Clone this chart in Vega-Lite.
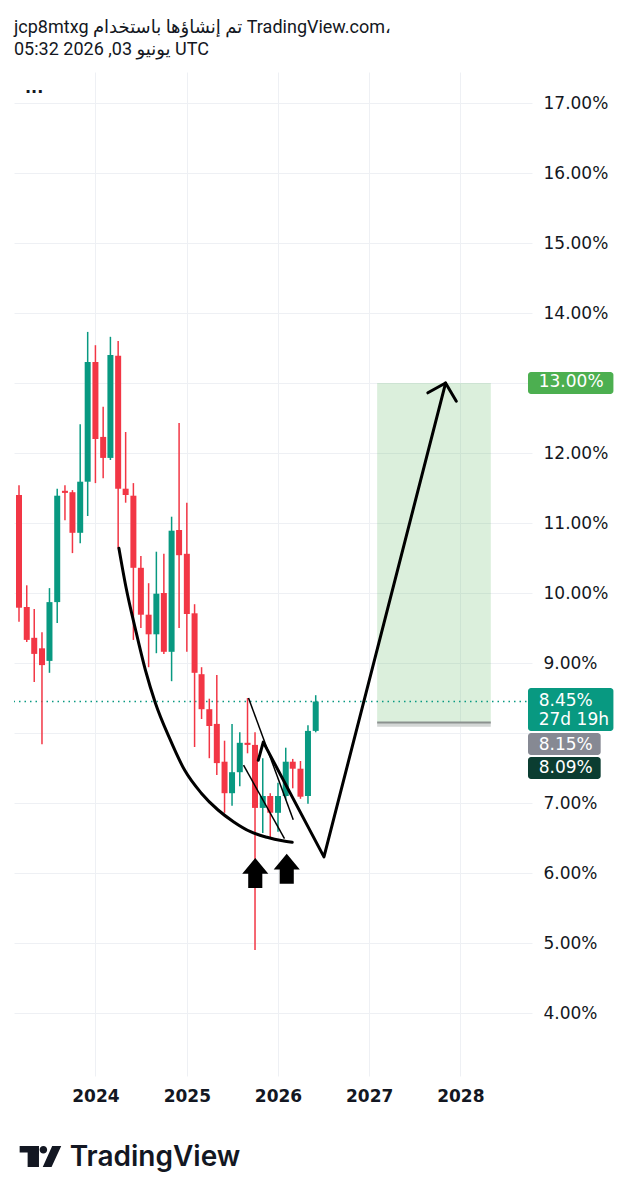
{
"$schema":"https://vega.github.io/schema/vega-lite/v6.json",
"width":518,"height":1004,"autosize":"none",
"padding":{"left":14,"top":72,"right":110,"bottom":124},
"background":"#ffffff",
"config":{"view":{"stroke":null}},
"title":{"text":"jcp8mtxg تم إنشاؤها باستخدام TradingView.com،","subtitle":"05:32 2026 ,03 يونيو UTC","anchor":"start","frame":"group","font":"Roboto, DejaVu Sans","fontSize":18,"fontWeight":"normal","color":"#131722","subtitleFont":"Roboto, DejaVu Sans","subtitleFontSize":18,"subtitleColor":"#131722","subtitlePadding":4,"offset":13},
"datasets":{
"candles":[
{"date":"2023-03-01","open":11.40,"high":11.54,"low":9.59,"close":9.79},
{"date":"2023-04-01","open":9.80,"high":10.11,"low":9.30,"close":9.33},
{"date":"2023-05-01","open":9.36,"high":9.77,"low":8.73,"close":9.13},
{"date":"2023-06-01","open":9.21,"high":9.44,"low":7.84,"close":8.97},
{"date":"2023-07-01","open":9.03,"high":10.07,"low":8.86,"close":9.87},
{"date":"2023-08-01","open":9.87,"high":11.49,"low":9.57,"close":11.39},
{"date":"2023-09-01","open":11.46,"high":11.54,"low":11.04,"close":11.43},
{"date":"2023-10-01","open":11.44,"high":11.47,"low":10.57,"close":10.86},
{"date":"2023-11-01","open":10.86,"high":12.41,"low":10.71,"close":11.59},
{"date":"2023-12-01","open":11.59,"high":13.73,"low":11.10,"close":13.30},
{"date":"2024-01-01","open":13.30,"high":13.54,"low":11.57,"close":12.20},
{"date":"2024-02-01","open":12.23,"high":12.66,"low":11.64,"close":11.93},
{"date":"2024-03-01","open":11.93,"high":13.66,"low":11.90,"close":13.40},
{"date":"2024-04-01","open":13.39,"high":13.60,"low":10.64,"close":11.49},
{"date":"2024-05-01","open":11.49,"high":12.30,"low":11.29,"close":11.40},
{"date":"2024-06-01","open":11.39,"high":11.57,"low":9.33,"close":10.36},
{"date":"2024-07-01","open":10.36,"high":10.53,"low":9.50,"close":9.69},
{"date":"2024-08-01","open":9.69,"high":10.14,"low":8.94,"close":9.41},
{"date":"2024-09-01","open":9.41,"high":10.59,"low":9.14,"close":9.99},
{"date":"2024-10-01","open":10.00,"high":10.56,"low":9.13,"close":9.16},
{"date":"2024-11-01","open":9.16,"high":11.09,"low":8.74,"close":10.89},
{"date":"2024-12-01","open":10.90,"high":12.43,"low":9.50,"close":10.54},
{"date":"2025-01-01","open":10.56,"high":11.29,"low":9.16,"close":9.70},
{"date":"2025-02-01","open":9.71,"high":9.84,"low":7.80,"close":8.86},
{"date":"2025-03-01","open":8.84,"high":8.94,"low":8.20,"close":8.34},
{"date":"2025-04-01","open":8.34,"high":8.49,"low":7.64,"close":8.10},
{"date":"2025-05-01","open":8.13,"high":8.83,"low":7.40,"close":7.57},
{"date":"2025-06-01","open":7.59,"high":7.89,"low":6.86,"close":7.14},
{"date":"2025-07-01","open":7.14,"high":8.13,"low":6.96,"close":7.44},
{"date":"2025-08-01","open":7.44,"high":8.01,"low":7.24,"close":7.86},
{"date":"2025-09-01","open":7.86,"high":8.50,"low":7.71,"close":7.83},
{"date":"2025-10-01","open":7.83,"high":8.01,"low":4.90,"close":6.93},
{"date":"2025-11-01","open":6.93,"high":7.64,"low":6.57,"close":7.10},
{"date":"2025-12-01","open":7.10,"high":7.14,"low":6.51,"close":6.86},
{"date":"2026-01-01","open":6.86,"high":7.29,"low":6.59,"close":7.10},
{"date":"2026-02-01","open":7.10,"high":7.79,"low":7.04,"close":7.59},
{"date":"2026-03-01","open":7.59,"high":7.63,"low":7.21,"close":7.49},
{"date":"2026-04-01","open":7.49,"high":7.60,"low":7.06,"close":7.09},
{"date":"2026-05-01","open":7.10,"high":8.11,"low":6.99,"close":8.03},
{"date":"2026-06-01","open":8.03,"high":8.54,"low":8.01,"close":8.45}
],
"drawing":[
{"seg":"curve","date":"2024-04-04","value":10.64},
{"seg":"curve","date":"2024-05-02","value":10.09},
{"seg":"curve","date":"2024-06-10","value":9.47},
{"seg":"curve","date":"2024-07-19","value":8.90},
{"seg":"curve","date":"2024-08-28","value":8.43},
{"seg":"curve","date":"2024-10-22","value":7.94},
{"seg":"curve","date":"2024-12-23","value":7.47},
{"seg":"curve","date":"2025-02-28","value":7.14},
{"seg":"curve","date":"2025-05-06","value":6.90},
{"seg":"curve","date":"2025-07-08","value":6.73},
{"seg":"curve","date":"2025-09-13","value":6.59},
{"seg":"curve","date":"2025-11-18","value":6.51},
{"seg":"curve","date":"2026-01-19","value":6.46},
{"seg":"curve","date":"2026-02-27","value":6.44},
{"seg":"t1","date":"2025-09-05","value":8.50},
{"seg":"t1","date":"2026-03-03","value":6.76},
{"seg":"t2","date":"2025-08-16","value":7.54},
{"seg":"t2","date":"2026-01-27","value":6.49},
{"seg":"path","date":"2025-10-14","value":7.61},
{"seg":"path","date":"2025-11-03","value":7.87},
{"seg":"path","date":"2026-07-04","value":6.23},
{"seg":"path","date":"2027-11-03","value":13.0},
{"seg":"head","date":"2027-08-24","value":12.86},
{"seg":"head","date":"2027-11-03","value":13.0},
{"seg":"head","date":"2027-12-16","value":12.74}
],
"zone":[{"start":"2027-02-02","end":"2028-05-02","target":13.0,"entry":8.15,"stop":8.09}],
"markers":[{"date":"2025-10-02","value":6.0},{"date":"2026-02-05","value":6.06}],
"tags":[{"tag":"13.00%","value":13.0},{"tag":"8.45%","value":8.45,"note":"27d 19h"},{"tag":"8.15%","value":8.15},{"tag":"8.09%","value":8.09}],
"branding":[{"label":"TradingView","date":"2023-09-20","value":1.93,"icondate":"2023-05-25","iconvalue":1.95}],
"menu":[{"label":"...","date":"2023-03-25","value":17.14}]
},
"layer":[
{"data":{"name":"zone"},"mark":{"type":"rect","color":"#4caf50","opacity":0.2},
 "encoding":{
  "x":{"field":"start","type":"temporal","scale":{"domain":[{"year":2023,"month":3,"date":1,"utc":true},{"year":2028,"month":9,"date":24,"utc":true}]},
   "axis":{"orient":"bottom","values":[{"year":2024,"month":1,"date":1,"utc":true},{"year":2025,"month":1,"date":1,"utc":true},{"year":2026,"month":1,"date":1,"utc":true},{"year":2027,"month":1,"date":1,"utc":true},{"year":2028,"month":1,"date":1,"utc":true}],"format":"%Y","formatType":"utc","grid":true,"gridColor":"#eef0f4","domain":false,"ticks":false,"labelPadding":12,"labelFont":"DejaVu Sans","labelFontSize":17,"labelFontWeight":"bold","labelColor":"#131722","title":null}},
  "x2":{"field":"end"},
  "y":{"field":"target","type":"quantitative","scale":{"domain":[3.1,17.443],"nice":false,"zero":false},
   "axis":{"orient":"right","values":[4,5,6,7,8,9,10,11,12,13,14,15,16,17],"labelExpr":"datum.value === 8 || datum.value === 13 ? '' : format(datum.value,'.2f') + '%'","grid":true,"gridColor":"#eef0f4","domain":false,"ticks":false,"labelPadding":11,"labelFont":"DejaVu Sans","labelFontSize":17,"labelColor":"#131722","title":null}},
  "y2":{"field":"entry"}}},
{"data":{"name":"zone"},"mark":{"type":"rect","color":"#d3d6d5"},
 "encoding":{"x":{"field":"start","type":"temporal"},"x2":{"field":"end"},"y":{"field":"entry","type":"quantitative"},"y2":{"field":"stop"}}},
{"data":{"name":"zone"},"mark":{"type":"rule","color":"#8c918f","strokeWidth":2},
 "encoding":{"x":{"field":"start","type":"temporal"},"x2":{"field":"end"},"y":{"field":"entry","type":"quantitative"}}},
{"data":{"name":"tags"},"transform":[{"filter":"datum.tag === '8.45%'"}],"mark":{"type":"rule","color":"#089981","strokeWidth":1.3,"strokeDash":[1.5,4]},
 "encoding":{"y":{"field":"value","type":"quantitative"}}},
{"data":{"name":"candles"},"mark":{"type":"rule","strokeWidth":1.5},
 "encoding":{"x":{"field":"date","type":"temporal"},"y":{"field":"low","type":"quantitative"},"y2":{"field":"high"},
  "color":{"condition":{"test":"datum.close >= datum.open","value":"#089981"},"value":"#f23645"}}},
{"data":{"name":"candles"},"mark":{"type":"bar","width":6},
 "encoding":{"x":{"field":"date","type":"temporal"},"y":{"field":"open","type":"quantitative"},"y2":{"field":"close"},
  "color":{"condition":{"test":"datum.close >= datum.open","value":"#089981"},"value":"#f23645"}}},
{"data":{"name":"drawing"},"transform":[{"filter":"datum.seg === 'curve'"}],"mark":{"type":"line","color":"#000000","strokeWidth":3,"interpolate":"monotone","strokeCap":"round"},
 "encoding":{"x":{"field":"date","type":"temporal"},"y":{"field":"value","type":"quantitative"}}},
{"data":{"name":"drawing"},"transform":[{"filter":"datum.seg === 't1' || datum.seg === 't2'"}],"mark":{"type":"line","color":"#000000","strokeWidth":1.5},
 "encoding":{"x":{"field":"date","type":"temporal"},"y":{"field":"value","type":"quantitative"},"detail":{"field":"seg"}}},
{"data":{"name":"drawing"},"transform":[{"filter":"datum.seg === 'path' || datum.seg === 'head'"}],"mark":{"type":"line","color":"#000000","strokeWidth":3,"strokeCap":"round","strokeJoin":"round"},
 "encoding":{"x":{"field":"date","type":"temporal"},"y":{"field":"value","type":"quantitative"},"detail":{"field":"seg"}}},
{"data":{"name":"markers"},"mark":{"type":"point","filled":true,"color":"#000000","opacity":1,"size":900,"strokeWidth":0,"shape":"M0,-1L0.87,0.05L0.47,0.05L0.47,1L-0.47,1L-0.47,0.05L-0.87,0.05Z"},
 "encoding":{"x":{"field":"date","type":"temporal"},"y":{"field":"value","type":"quantitative"}}},
{"data":{"name":"tags"},"transform":[{"filter":"datum.tag === '13.00%'"}],"mark":{"type":"rect","color":"#4caf50","cornerRadius":3,"yOffset":-11,"y2Offset":11},
 "encoding":{"x":{"datum":{"year":2028,"month":9,"date":28,"utc":true},"type":"temporal"},"x2":{"datum":{"year":2029,"month":9,"date":5,"utc":true}},"y":{"field":"value","type":"quantitative"},"y2":{"field":"value"}}},
{"data":{"name":"tags"},"transform":[{"filter":"datum.tag === '8.45%'"}],"mark":{"type":"rect","color":"#089981","cornerRadius":3,"yOffset":-13.5,"y2Offset":29.5},
 "encoding":{"x":{"datum":{"year":2028,"month":9,"date":28,"utc":true},"type":"temporal"},"x2":{"datum":{"year":2029,"month":9,"date":5,"utc":true}},"y":{"field":"value","type":"quantitative"},"y2":{"field":"value"}}},
{"data":{"name":"tags"},"transform":[{"filter":"datum.tag === '8.15%'"}],"mark":{"type":"rect","color":"#868993","cornerRadius":3,"yOffset":10.5,"y2Offset":32.5},
 "encoding":{"x":{"datum":{"year":2028,"month":9,"date":28,"utc":true},"type":"temporal"},"x2":{"datum":{"year":2029,"month":7,"date":16,"utc":true}},"y":{"field":"value","type":"quantitative"},"y2":{"field":"value"}}},
{"data":{"name":"tags"},"transform":[{"filter":"datum.tag === '8.09%'"}],"mark":{"type":"rect","color":"#0b3d31","cornerRadius":3,"yOffset":30.3,"y2Offset":52.3},
 "encoding":{"x":{"datum":{"year":2028,"month":9,"date":28,"utc":true},"type":"temporal"},"x2":{"datum":{"year":2029,"month":7,"date":16,"utc":true}},"y":{"field":"value","type":"quantitative"},"y2":{"field":"value"}}},
{"data":{"name":"tags"},"transform":[{"filter":"datum.tag === '13.00%' || datum.tag === '8.45%'"}],"mark":{"type":"text","color":"#ffffff","font":"DejaVu Sans","fontSize":17,"align":"left","baseline":"middle","dy":-1},
 "encoding":{"x":{"datum":{"year":2028,"month":11,"date":10,"utc":true},"type":"temporal"},"y":{"field":"value","type":"quantitative"},"text":{"field":"tag"}}},
{"data":{"name":"tags"},"transform":[{"filter":"datum.note"}],"mark":{"type":"text","color":"#ffffff","font":"DejaVu Sans","fontSize":17,"align":"left","baseline":"middle","dy":18},
 "encoding":{"x":{"datum":{"year":2028,"month":11,"date":10,"utc":true},"type":"temporal"},"y":{"field":"value","type":"quantitative"},"text":{"field":"note"}}},
{"data":{"name":"tags"},"transform":[{"filter":"datum.tag === '8.15%'"}],"mark":{"type":"text","color":"#ffffff","font":"DejaVu Sans","fontSize":17,"align":"left","baseline":"middle","dy":22.5},
 "encoding":{"x":{"datum":{"year":2028,"month":11,"date":10,"utc":true},"type":"temporal"},"y":{"field":"value","type":"quantitative"},"text":{"field":"tag"}}},
{"data":{"name":"tags"},"transform":[{"filter":"datum.tag === '8.09%'"}],"mark":{"type":"text","color":"#ffffff","font":"DejaVu Sans","fontSize":17,"align":"left","baseline":"middle","dy":41.3},
 "encoding":{"x":{"datum":{"year":2028,"month":11,"date":10,"utc":true},"type":"temporal"},"y":{"field":"value","type":"quantitative"},"text":{"field":"tag"}}},
{"data":{"name":"menu"},"mark":{"type":"text","color":"#131722","font":"DejaVu Sans","fontSize":16,"fontWeight":"bold","align":"left","baseline":"alphabetic"},
 "encoding":{"x":{"field":"date","type":"temporal"},"y":{"field":"value","type":"quantitative"},"text":{"field":"label"}}},
{"data":{"name":"branding"},"mark":{"type":"point","filled":true,"color":"#131722","opacity":1,"size":1764,"strokeWidth":0,"shape":"M-0.98,-0.5H-0.06V0.5H-0.6V-0.19H-0.98ZM-0.03,-0.32A0.18,0.18 0 1 0 0.33,-0.32A0.18,0.18 0 1 0 -0.03,-0.32ZM0.57,-0.5H1L0.54,0.5H0.12Z"},
 "encoding":{"x":{"field":"icondate","type":"temporal"},"y":{"field":"iconvalue","type":"quantitative"}}},
{"data":{"name":"branding"},"mark":{"type":"text","color":"#131722","font":"Inter","fontSize":28,"fontWeight":600,"align":"left","baseline":"middle"},
 "encoding":{"x":{"field":"date","type":"temporal"},"y":{"field":"value","type":"quantitative"},"text":{"field":"label"}}}
]
}
